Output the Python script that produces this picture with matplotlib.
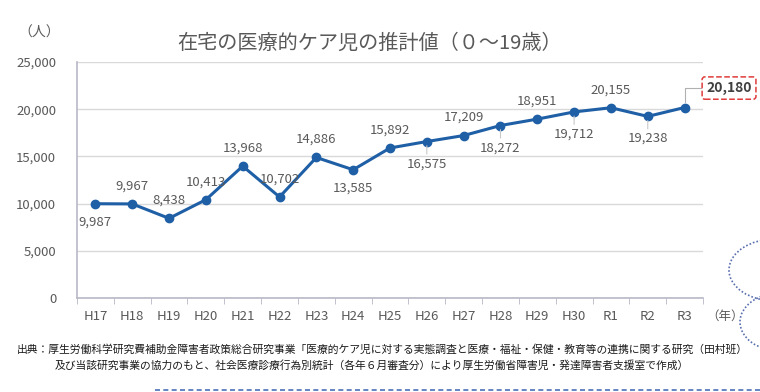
import matplotlib
matplotlib.use('Agg')
from matplotlib import pyplot as plt
from matplotlib.patches import Ellipse
from matplotlib.lines import Line2D
import numpy as np

plt.rcParams['font.family'] = ['Noto Sans CJK JP', 'DejaVu Sans']

years = ['H17', 'H18', 'H19', 'H20', 'H21', 'H22', 'H23', 'H24', 'H25', 'H26',
         'H27', 'H28', 'H29', 'H30', 'R1', 'R2', 'R3']
children = [9987, 9967, 8438, 10413, 13968, 10702, 14886, 13585, 15892, 16575,
            17209, 18272, 18951, 19712, 20155, 19238, 20180]
# label side for each point: 1 above, -1 below
label_side = [-1, 1, 1, 1, 1, 1, 1, -1, 1, -1, 1, -1, 1, -1, 1, -1, 0]
yticks = [0, 5000, 10000, 15000, 20000, 25000]

title = '在宅の医療的ケア児の推計値（０～19歳）'
source1 = '出典：厚生労働科学研究費補助金障害者政策総合研究事業「医療的ケア児に対する実態調査と医療・福祉・保健・教育等の連携に関する研究（田村班）'
source2 = '及び当該研究事業の協力のもと、社会医療診療行為別統計（各年６月審査分）により厚生労働省障害児・発達障害者支援室で作成）'

line_col = '#1f5fa6'
txt_col = '#595959'
W, H = 760, 392

fig = plt.figure(figsize=(7.6, 3.92), dpi=100)
ax = fig.add_axes([77 / W, 1 - 298 / H, 626 / W, 236 / H])

x = np.arange(len(years))
ax.plot(x, children, color=line_col, lw=2.2, marker='o', ms=6, zorder=3)

ax.set_xlim(-0.5, len(years) - 0.5)
ax.set_ylim(0, 25000)
ax.set_yticks(yticks)
ax.set_yticklabels([f'{v:,}' for v in yticks])
ax.set_xticks(x)
ax.set_xticklabels(years)
ax.set_xticks(np.arange(-0.5, len(years)), minor=True)
ax.tick_params(axis='x', which='major', length=0, pad=9, labelsize=9.5, labelcolor=txt_col)
ax.tick_params(axis='x', which='minor', length=4, direction='out', color='#b8b8c8')
ax.tick_params(axis='y', length=0, pad=15, labelsize=9.5, labelcolor=txt_col)
ax.grid(axis='y', color='#d9d9d9', lw=1)
ax.set_axisbelow(True)
for s in ['top', 'right']:
    ax.spines[s].set_visible(False)
for s in ['left', 'bottom']:
    ax.spines[s].set_color('#b8b8c8')
    ax.spines[s].set_linewidth(1.2)

for i, (v, side) in enumerate(zip(children, label_side)):
    if side == 0:
        continue
    if side > 0:
        ax.annotate(f'{v:,}', (i, v), xytext=(0, 13), textcoords='offset points',
                    ha='center', va='center', fontsize=9.5, color=txt_col)
    else:
        off = -13 if i in (0, 7) else -16
        if off == -16:
            ax.annotate('', (i, v), xytext=(0, -9), textcoords='offset points',
                        arrowprops=dict(arrowstyle='-', color='#c8c8c8', lw=0.8,
                                        shrinkA=0, shrinkB=3))
        ax.annotate(f'{v:,}', (i, v), xytext=(0, off), textcoords='offset points',
                    ha='center', va='center', fontsize=9.5, color=txt_col)

# highlighted last value
last = len(children) - 1
ax.annotate(f'{children[last]:,}', (last, children[last]), xytext=(32, 14),
            textcoords='offset points', ha='center', va='center', fontsize=10,
            fontweight='bold', color='#404040',
            bbox=dict(boxstyle='round,pad=0.3,rounding_size=0.2', fc='white',
                      ec='#e03c3c', ls='--', lw=1.1),
            arrowprops=dict(arrowstyle='-', color='#b0b0b0', lw=0.8,
                            connectionstyle='angle,angleA=0,angleB=90,rad=0',
                            shrinkA=0, shrinkB=4))

fig.text(370 / W, 1 - 43 / H, title, ha='center', va='center', fontsize=14.5, color=txt_col)
fig.text(18 / W, 1 - 33 / H, '（人）', ha='left', va='center', fontsize=10, color=txt_col)
fig.text(706 / W, 1 - 316 / H, '（年）', ha='left', va='center', fontsize=9, color=txt_col)
fig.text(17 / W, 1 - 350 / H, source1, ha='left', va='center', fontsize=7.75, color='#1a1a1a')
fig.text(55 / W, 1 - 365 / H, source2, ha='left', va='center', fontsize=7.75, color='#1a1a1a')

# decorative dotted circles and dashed rule
fig.patches.append(Ellipse((775 / W, 1 - 270 / H), 92 / W, 62 / H, transform=fig.transFigure,
                           fill=False, ec='#5a6fb0', ls=(0, (1, 1.2)), lw=1.2))
fig.patches.append(Ellipse((780 / W, 1 - 322 / H), 80 / W, 58 / H, transform=fig.transFigure,
                           fill=False, ec='#5a6fb0', ls=(0, (1, 1.2)), lw=1.2))
fig.lines.append(Line2D([155 / W, 1.0], [1 - 390 / H, 1 - 390 / H], transform=fig.transFigure,
                        color='#4a6fb8', ls=(0, (3, 2)), lw=1.2))

fig.savefig('out.png', dpi=100, facecolor='white')
